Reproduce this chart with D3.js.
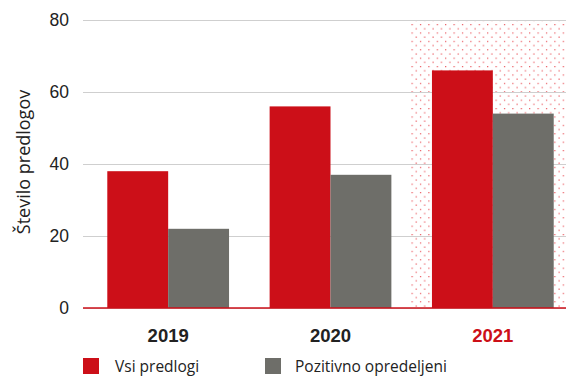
<!DOCTYPE html>
<html>
<head>
<meta charset="utf-8">
<script src="https://cdn.jsdelivr.net/npm/d3@7"></script>
<style>
  html, body { margin: 0; padding: 0; background: #fff; }
  svg { display: block; font-family: "Open Sans", "Noto Sans", sans-serif; }
</style>
</head>
<body>
<svg id="chart" width="566" height="376"></svg>
<script>
// Number of proposals per year
const years = ["2019", "2020", "2021"];
const allProposals = [38, 56, 66];       // Vsi predlogi
const positiveDecisions = [22, 37, 54];  // Pozitivno opredeljeni
const yTicks = [0, 20, 40, 60, 80];
const seriesNames = ["Vsi predlogi", "Pozitivno opredeljeni"];
const highlightYear = "2021";

const RED = "#cc0f18";
const GREY = "#6e6e69";
const TEXT = "#222";

const svg = d3.select("#chart");
const W = 566;
const plotLeft = 83, plotRight = 566, plotTop = 20, plotBottom = 308;

const y = d3.scaleLinear().domain([0, 80]).range([plotBottom, plotTop]);
const x = d3.scaleBand().domain(years).range([87, 574])
  .paddingInner(0.25).paddingOuter(0.125);
const xs = d3.scaleBand().domain([0, 1]).range([0, x.bandwidth()]);

// Dotted background pattern for the highlighted year
const defs = svg.append("defs");
const pat = defs.append("pattern")
  .attr("id", "dots").attr("patternUnits", "userSpaceOnUse")
  .attr("width", 8.4).attr("height", 8.4)
  .attr("x", 411.5).attr("y", 24);
pat.append("rect").attr("x", 0).attr("y", 0).attr("width", 1.2).attr("height", 1.2).attr("fill", "#e42a33");
pat.append("rect").attr("x", 4.2).attr("y", 4.2).attr("width", 1.2).attr("height", 1.2).attr("fill", "#e42a33");

const hx0 = x(highlightYear) - x.step() * 0.135;
svg.append("rect")
  .attr("x", hx0).attr("y", y(80))
  .attr("width", W - hx0).attr("height", y(0) - y(80))
  .attr("fill", "url(#dots)").attr("opacity", 0.8);

// Grid lines and y-axis labels
const yAxis = d3.axisLeft(y).tickValues(yTicks).tickSize(-(plotRight - plotLeft)).tickPadding(14);
const gy = svg.append("g").attr("transform", `translate(${plotLeft},0)`).call(yAxis);
gy.select(".domain").remove();
gy.selectAll(".tick line").attr("stroke", "#cfcfcf").attr("stroke-width", 1.2);
gy.selectAll(".tick text").attr("fill", TEXT).attr("font-size", 17.5);

// Bars
const groups = svg.append("g").selectAll("g").data(years).join("g")
  .attr("transform", d => `translate(${x(d)},0)`);
groups.append("rect")
  .attr("x", xs(0)).attr("width", xs.bandwidth())
  .attr("y", (d, i) => y(allProposals[i]))
  .attr("height", (d, i) => y(0) - y(allProposals[i]))
  .attr("fill", RED);
groups.append("rect")
  .attr("x", xs(1)).attr("width", xs.bandwidth())
  .attr("y", (d, i) => y(positiveDecisions[i]))
  .attr("height", (d, i) => y(0) - y(positiveDecisions[i]))
  .attr("fill", GREY);

// Baseline
svg.append("line")
  .attr("x1", plotLeft).attr("x2", plotRight)
  .attr("y1", y(0)).attr("y2", y(0))
  .attr("stroke", RED).attr("stroke-width", 1.6);

// Year labels
const xAxis = d3.axisBottom(x).tickSize(0).tickPadding(21);
const gx = svg.append("g").attr("transform", `translate(0,${y(0)})`).call(xAxis);
gx.select(".domain").remove();
gx.selectAll(".tick text")
  .attr("font-size", 18.5).attr("font-weight", "bold")
  .attr("fill", d => d === highlightYear ? RED : TEXT);

// Y-axis title
svg.append("text")
  .attr("transform", `translate(30,162) rotate(-90)`)
  .attr("text-anchor", "middle")
  .attr("font-size", 18).attr("fill", TEXT)
  .text("Število predlogov");

// Legend
const legendX = [83, 265];
const legend = svg.append("g").selectAll("g").data(seriesNames).join("g")
  .attr("transform", (d, i) => `translate(${legendX[i]},358)`);
legend.append("rect")
  .attr("width", 16).attr("height", 16)
  .attr("fill", (d, i) => i === 0 ? RED : GREY);
legend.append("text")
  .attr("x", (d, i) => i === 0 ? 32 : 30).attr("y", 13.5)
  .attr("font-size", 15.5).attr("fill", TEXT)
  .text(d => d);
</script>
</body>
</html>
